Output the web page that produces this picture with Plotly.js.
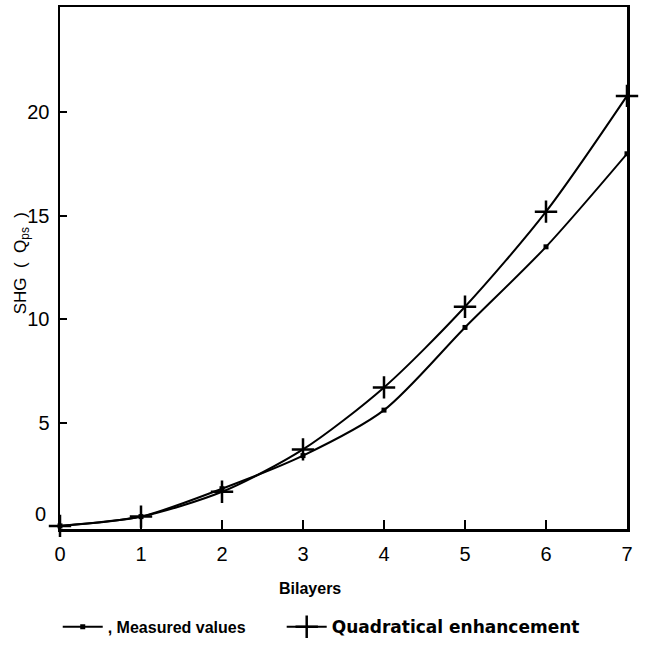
<!DOCTYPE html>
<html>
<head>
<meta charset="utf-8">
<script src="https://cdn.plot.ly/plotly-3.0.1.min.js"></script>
<style>html,body{margin:0;padding:0;background:#fff;}#chart{width:658px;height:651px;}</style>
</head>
<body>
<div id="chart"></div>
<script>
const bilayers = [0, 1, 2, 3, 4, 5, 6, 7];
const measured = [0, 0.45, 1.8, 3.4, 5.6, 9.6, 13.5, 18.0];
const quadratic = [0, 0.45, 1.65, 3.7, 6.7, 10.6, 15.2, 20.8];
const xTicks = [0, 1, 2, 3, 4, 5, 6, 7];
const yTicks = [5, 10, 15, 20];

const font = 'Liberation Sans, Arial, sans-serif';
const pad = '&nbsp;'.repeat(7);

const traces = [
  {
    x: bilayers, y: measured, type: 'scatter', mode: 'lines+markers',
    name: '<b>, Measured values</b>' + pad,
    line: {color: '#000', width: 2, shape: 'spline', smoothing: 0.8},
    marker: {symbol: 'square', size: 5, color: '#000'},
    cliponaxis: false
  },
  {
    x: bilayers, y: quadratic, type: 'scatter', mode: 'lines+markers',
    name: '<span style="font-family:DejaVu Sans;font-size:17px"><b>Quadratical enhancement</b></span>',
    line: {color: '#000', width: 2, shape: 'spline', smoothing: 0.8},
    marker: {symbol: 'cross-thin', size: 16, color: '#000', line: {width: 2.5, color: '#000'}},
    cliponaxis: false
  }
];

const layout = {
  width: 658, height: 651,
  margin: {l: 60, r: 31, t: 7, b: 119},
  paper_bgcolor: '#fff', plot_bgcolor: '#fff',
  font: {family: font, color: '#000'},
  showlegend: true,
  legend: {
    orientation: 'h', x: -0.004, xanchor: 'left', xref: 'paper',
    y: -0.155, yanchor: 'top',
    font: {size: 16, family: font, color: '#000'},
    itemwidth: 40, tracegroupgap: 0
  },
  xaxis: {
    range: [0, 7], tickvals: xTicks, ticktext: xTicks.map(String),
    ticks: 'inside', ticklen: 9, tickwidth: 2, tickcolor: '#000',
    showline: true, linewidth: 2.5, linecolor: '#000', mirror: true,
    showgrid: false, zeroline: false, ticklabelstandoff: 5,
    tickfont: {size: 20, family: font}
  },
  yaxis: {
    range: [-0.15, 25.1], tickvals: yTicks, ticktext: yTicks.map(String),
    ticks: 'inside', ticklen: 7, tickwidth: 2, tickcolor: '#000',
    showline: true, linewidth: 2.5, linecolor: '#000', mirror: true,
    showgrid: false, zeroline: false, ticklabelstandoff: 4,
    tickfont: {size: 20, family: font}
  },
  annotations: [
    {x: 0, y: 0.6, xref: 'x', yref: 'y', text: '0', showarrow: false,
     xanchor: 'right', xshift: -12, font: {size: 20, family: font, color: '#000'}},
    {x: 0.441, y: -0.114, xref: 'paper', yref: 'paper', text: '<b>Bilayers</b>', showarrow: false,
     xanchor: 'center', yanchor: 'middle', font: {size: 16, family: font, color: '#000'}},
    {x: -0.067, y: 0.509, xref: 'paper', yref: 'paper', text: 'SHG  (  Q<sub>ps</sub>  )', showarrow: false,
     textangle: -90, xanchor: 'center', yanchor: 'middle', font: {size: 17, family: font, color: '#000'}}
  ]
};

Plotly.newPlot('chart', traces, layout, {displayModeBar: false, staticPlot: true});
</script>
</body>
</html>
